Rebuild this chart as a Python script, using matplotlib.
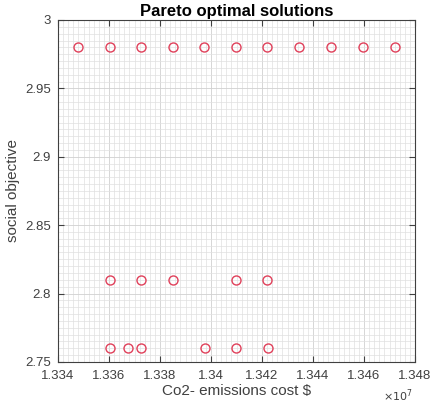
import numpy as np
import matplotlib
matplotlib.use('Agg')
import matplotlib.pyplot as plt
from matplotlib.ticker import MultipleLocator, FuncFormatter

plt.rcParams['font.family'] = ['Liberation Sans', 'DejaVu Sans']

# Pareto points (cost in $, social objective)
cost_top = [13347800, 13360400, 13372600, 13385100, 13397300, 13409800,
            13422000, 13434500, 13447100, 13459600, 13472200]
soc_top = [2.98] * len(cost_top)

cost_mid = [13360400, 13372600, 13385100, 13409800, 13422000]
soc_mid = [2.81] * len(cost_mid)

cost_low = [13360400, 13367500, 13372600, 13397800, 13409800, 13422300]
soc_low = [2.76] * len(cost_low)

cost = np.array(cost_top + cost_mid + cost_low)
soc = np.array(soc_top + soc_mid + soc_low)

fig = plt.figure(figsize=(4.31, 4.08), dpi=100)
ax = fig.add_axes([0.1346, 0.113, 0.8284, 0.838])

ax.plot(cost, soc, 'o', mfc='none', mec='#e0405a', ms=6.5, mew=1.0)

ax.set_xlim(13340000, 13480000)
ax.set_ylim(2.75, 3.0)
ax.xaxis.set_major_locator(MultipleLocator(20000))
ax.xaxis.set_minor_locator(MultipleLocator(2000))
ax.yaxis.set_major_locator(MultipleLocator(0.05))
ax.yaxis.set_minor_locator(MultipleLocator(0.005))
ax.xaxis.set_major_formatter(FuncFormatter(lambda v, p: '%g' % round(v / 1e7, 4)))
ax.yaxis.set_major_formatter(FuncFormatter(lambda v, p: '%g' % round(v, 3)))

ax.grid(which='major', color='#d0d0d0', lw=0.6)
ax.grid(which='minor', color='#e0e0e0', lw=0.5)
ax.set_axisbelow(True)

ax.tick_params(which='both', direction='in', top=True, right=True, colors='#404040',
               labelsize=9.5, labelcolor='#404040')
ax.tick_params(which='major', length=4)
ax.tick_params(which='minor', length=0)
ax.tick_params(axis='x', pad=6)
ax.tick_params(axis='y', pad=5)
for s in ax.spines.values():
    s.set_color('#404040')
    s.set_linewidth(0.8)

ax.set_xlabel('Co2- emissions cost $', fontsize=11, color='#404040', labelpad=1)
ax.set_ylabel('social objective', fontsize=11, color='#404040', labelpad=4)
ax.set_title('Pareto optimal solutions', fontsize=12, fontweight='bold', pad=3)
ax.text(0.995, -0.075, r'$\times 10^7$', transform=ax.transAxes, ha='right', va='top',
        fontsize=8, color='#404040')

fig.savefig('out.png', dpi=100)
